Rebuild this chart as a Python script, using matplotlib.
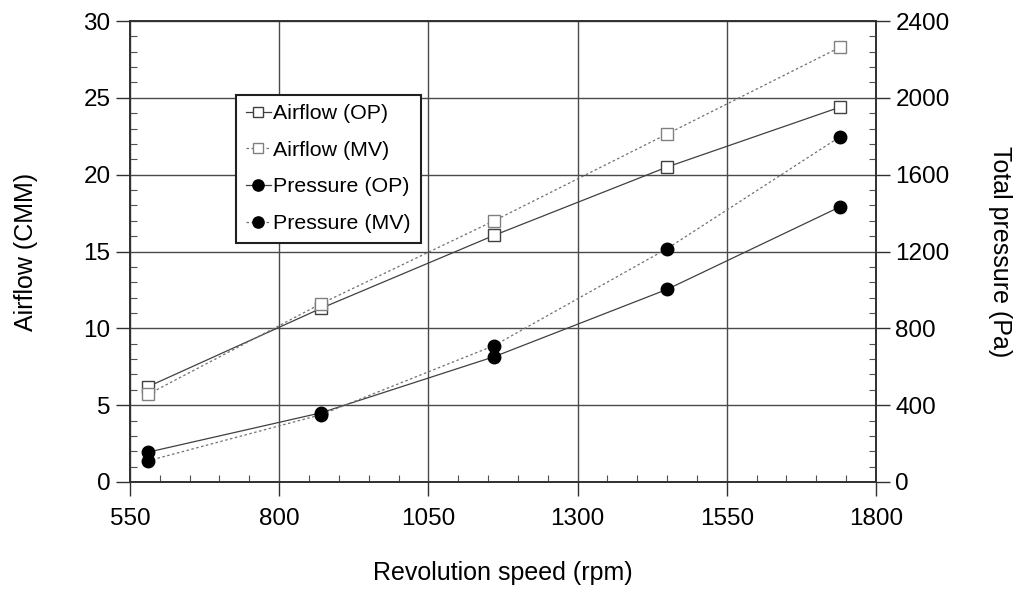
import matplotlib
matplotlib.use('agg')
from matplotlib import pyplot as plt
from matplotlib.ticker import MultipleLocator

plt.rcParams['font.family'] = ['Liberation Sans', 'DejaVu Sans']

# data
rpm = [580, 870, 1160, 1450, 1740]
airflow_op = [6.2, 11.3, 16.05, 20.5, 24.4]
airflow_mv = [5.7, 11.6, 17.0, 22.65, 28.3]
pressure_op = [155, 360, 652, 1003, 1433]
pressure_mv = [110, 350, 710, 1215, 1798]
x_ticks = [550, 800, 1050, 1300, 1550, 1800]

fig = plt.figure(figsize=(10.21, 5.89), dpi=100)
ax = fig.add_axes([0.1273, 0.1817, 0.7307, 0.7826])
ax2 = ax.twinx()

grid_col = '#4a4a4a'
ax.set_axisbelow(True)
ax.grid(True, which='major', color=grid_col, lw=1.0)

# airflow on the left axis
l1, = ax.plot(rpm, airflow_op, '-', color='#404040', lw=0.9,
              marker='s', ms=8, mfc='white', mec='#404040', mew=1.0)
l2, = ax.plot(rpm, airflow_mv, color='#707070', lw=0.9, ls=(0, (2, 2)),
              marker='s', ms=8, mfc='white', mec='#808080', mew=1.0)
# pressure on the right axis
l3, = ax2.plot(rpm, pressure_op, '-', color='#404040', lw=0.9,
               marker='o', ms=9, mfc='black', mec='black')
l4, = ax2.plot(rpm, pressure_mv, color='#707070', lw=0.9, ls=(0, (2, 2)),
               marker='o', ms=9, mfc='black', mec='black')

ax.set_xlim(550, 1800)
ax.set_ylim(0, 30)
ax2.set_ylim(0, 2400)
ax.set_xticks(x_ticks)
ax.xaxis.set_minor_locator(MultipleLocator(50))
ax.yaxis.set_major_locator(MultipleLocator(5))
ax.yaxis.set_minor_locator(MultipleLocator(1))
ax2.yaxis.set_major_locator(MultipleLocator(400))
ax2.yaxis.set_minor_locator(MultipleLocator(80))

for a in (ax, ax2):
    for sp in a.spines.values():
        sp.set_color('#303030')
        sp.set_linewidth(1.2)
    a.tick_params(which='major', direction='out', length=10, width=1.0,
                  color='#303030', labelsize=17.5, pad=4)
    a.tick_params(which='minor', direction='in', length=5, width=0.8,
                  color='#505050')
ax.tick_params(axis='x', which='major', pad=9)

ax.set_xlabel('Revolution speed (rpm)', fontsize=18, labelpad=22)
ax.set_ylabel('Airflow (CMM)', fontsize=18, labelpad=33)
ax2.set_ylabel('Total pressure (Pa)', fontsize=18, rotation=270,
               labelpad=45)

leg = ax.legend([l1, l2, l3, l4],
                ['Airflow (OP)', 'Airflow (MV)', 'Pressure (OP)', 'Pressure (MV)'],
                loc='upper left', bbox_to_anchor=(0.142, 0.84),
                borderaxespad=0.0,
                fontsize=15.4, handlelength=1.2, handletextpad=0.1,
                borderpad=0.45, labelspacing=0.82, markerscale=0.9,
                fancybox=False, framealpha=1, edgecolor='#202020')
leg.get_frame().set_linewidth(1.5)
leg.set_zorder(5)

fig.savefig('out.png', dpi=100)
